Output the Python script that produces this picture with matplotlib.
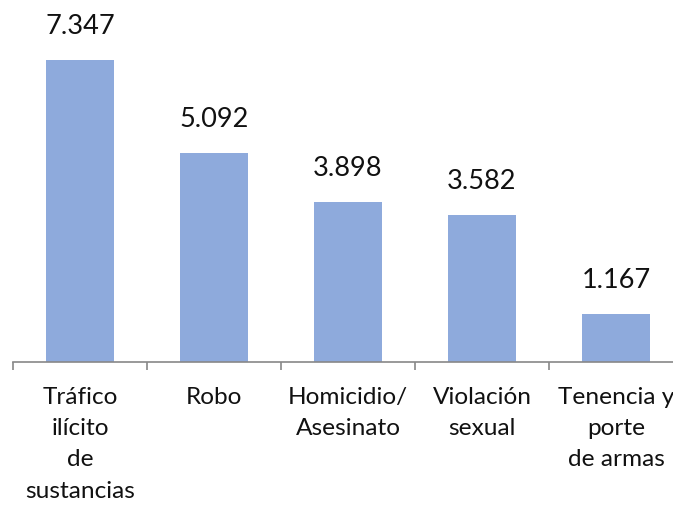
import numpy as np
import matplotlib.pyplot as plt

plt.rcParams['font.family'] = ['Lato', 'DejaVu Sans']

categorias = ['Tráfico\nilícito\nde\nsustancias', 'Robo', 'Homicidio/\nAsesinato',
              'Violación\nsexual', 'Tenencia y\nporte\nde armas']
valores = [7.347, 5.092, 3.898, 3.582, 1.167]
etiquetas = ['7.347', '5.092', '3.898', '3.582', '1.167']

fig = plt.figure(figsize=(6.73, 5.05), dpi=100)
ax = fig.add_axes([13 / 673, 143 / 505, 670 / 673, 362 / 505])

x = np.arange(len(valores))
ax.bar(x, valores, width=0.51, color='#8eaadc')

for xi, v, t in zip(x, valores, etiquetas):
    ax.annotate(t, (xi, v), xytext=(0, 15), textcoords='offset points',
                ha='center', va='bottom', fontsize=19.5, color='#111111')

ax.set_xlim(-0.5, len(valores) - 0.5)
ax.set_ylim(0, 8.81)

for s in ['top', 'right', 'left']:
    ax.spines[s].set_visible(False)
ax.spines['bottom'].set_color('#888888')
ax.spines['bottom'].set_linewidth(1.2)
ax.set_yticks([])

# ticks between categories, labels centred under bars
ax.set_xticks(np.arange(-0.5, len(valores), 1.0))
ax.set_xticklabels([])
ax.tick_params(axis='x', which='major', length=6, color='#888888', width=1.2)
ax.set_xticks(x, minor=True)
ax.set_xticklabels(categorias, minor=True, fontsize=17.6, color='#111111',
                   linespacing=1.6)
ax.tick_params(axis='x', which='minor', length=0, pad=18)

fig.savefig('out.png', dpi=100)
